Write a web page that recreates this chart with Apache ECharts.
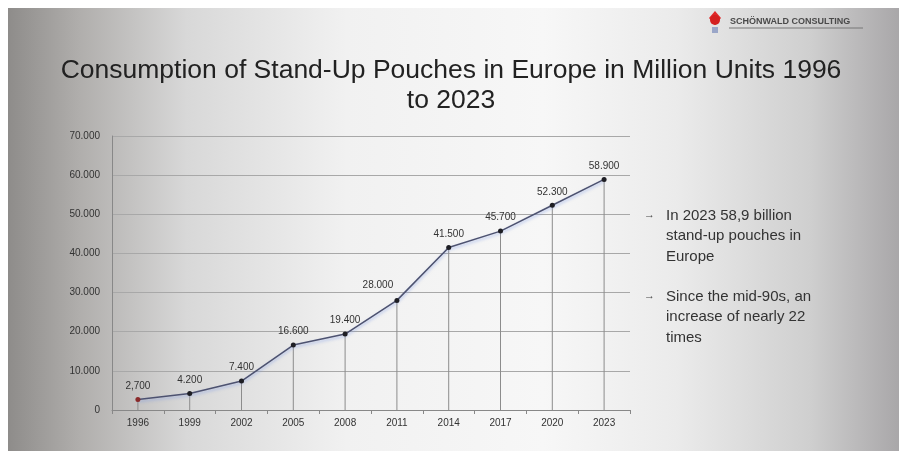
<!DOCTYPE html>
<html>
<head>
<meta charset="utf-8">
<script src="https://cdn.jsdelivr.net/npm/echarts@6/dist/echarts.min.js"></script>
<style>
  html, body { margin: 0; padding: 0; background: #ffffff; }
  #wrap { position: relative; width: 899px; height: 451px; background: #ffffff; overflow: hidden; }
  #chart { position: absolute; left: 8px; top: 8px; width: 891px; height: 443px;
    background: linear-gradient(90deg, #8e8c8a 0%, #b0aeac 8%, #d8d8d8 20%, #f1f1f1 38%, #f7f7f7 60%, #ebebeb 75%, #cfcfcf 90%, #a9a7a9 100%); }
</style>
</head>
<body>
<div id="wrap"><div id="chart"></div></div>
<script>
const years = ['1996','1999','2002','2005','2008','2011','2014','2017','2020','2023'];
const values = [2700, 4200, 7400, 16600, 19400, 28000, 41500, 45700, 52300, 58900];
const valueLabels = ['2,700','4.200','7.400','16.600','19.400','28.000','41.500','45.700','52.300','58.900'];
const yTickLabels = {0:'0',10000:'10.000',20000:'20.000',30000:'30.000',40000:'40.000',50000:'50.000',60000:'60.000',70000:'70.000'};
const titleLines = ['Consumption of Stand-Up Pouches in Europe in Million Units 1996', 'to 2023'];
const bullet1 = ['In 2023 58,9 billion', 'stand-up pouches in', 'Europe'];
const bullet2 = ['Since the mid-90s, an', 'increase of nearly 22', 'times'];
const logoText = 'SCHÖNWALD CONSULTING';

const chart = echarts.init(document.getElementById('chart'));
const font = '"Liberation Sans", Arial, sans-serif';

const lineData = values.map((v, i) => {
  const d = { value: v, label: { formatter: valueLabels[i] } };
  if (i === 0) d.itemStyle = { color: '#8a2a2a' };
  if (i === 5) d.label.offset = [-19, -2];
  return d;
});

function bulletGraphics(lines, y0) {
  const g = [];
  g.push({ type: 'text', left: 636, top: y0 - 1, style: { text: '→', fontSize: 11, fill: '#444', fontFamily: font } });
  lines.forEach((t, i) => {
    g.push({ type: 'text', left: 658, top: y0 + i * 20.5 - 2, style: { text: t, fontSize: 15, fill: '#333', fontFamily: font } });
  });
  return g;
}

chart.setOption({
  animation: false,
  textStyle: { fontFamily: font },
  grid: { left: 104, right: 269, top: 128, bottom: 41 },
  xAxis: {
    type: 'category', data: years, boundaryGap: true,
    axisLine: { lineStyle: { color: '#888', width: 1 } },
    axisTick: { show: true, length: 4, lineStyle: { color: '#888' } },
    axisLabel: { fontSize: 10, color: '#333', margin: 8 }
  },
  yAxis: {
    type: 'value', min: 0, max: 70000, interval: 10000,
    axisLine: { show: true, lineStyle: { color: '#888' } },
    axisTick: { show: false },
    axisLabel: { fontSize: 10, color: '#333', margin: 12, formatter: v => yTickLabels[v] },
    splitLine: { lineStyle: { color: '#a8a8a8', width: 1 } }
  },
  series: [
    {
      type: 'bar', data: values, barWidth: 1, z: 1,
      itemStyle: { color: '#8c8c8c' }, silent: true
    },
    {
      type: 'line', data: lineData, z: 3,
      symbol: 'circle', symbolSize: 5,
      lineStyle: { color: '#4d5270', width: 1.5, shadowColor: 'rgba(120,150,230,0.55)', shadowBlur: 3, shadowOffsetY: 2 },
      itemStyle: { color: '#1e1e24' },
      label: { show: true, position: 'top', distance: 6, fontSize: 10, color: '#333' }
    }
  ],
  graphic: [
    { type: 'text', x: 443, y: 49, style: { text: titleLines[0], textAlign: 'center', fontSize: 26.5, fill: '#222', fontFamily: font } },
    { type: 'text', x: 443, y: 79, style: { text: titleLines[1], textAlign: 'center', fontSize: 26.5, fill: '#222', fontFamily: font } },
    { type: 'polygon', shape: { points: [[707, 3], [713, 10], [707, 17], [701, 10]] }, style: { fill: '#e02828' } },
    { type: 'circle', shape: { cx: 707, cy: 12, r: 5 }, style: { fill: '#d42020' } },
    { type: 'rect', shape: { x: 704, y: 19, width: 6, height: 6 }, style: { fill: '#9aa6c8' } },
    { type: 'text', left: 722, top: 9, style: { text: logoText, fontSize: 9, fontWeight: 'bold', fill: '#4a4a4a', fontFamily: font } },
    { type: 'line', shape: { x1: 721, y1: 20, x2: 855, y2: 20 }, style: { stroke: '#777', lineWidth: 1 } },
    ...bulletGraphics(bullet1, 202),
    ...bulletGraphics(bullet2, 283)
  ]
});
</script>
</body>
</html>
